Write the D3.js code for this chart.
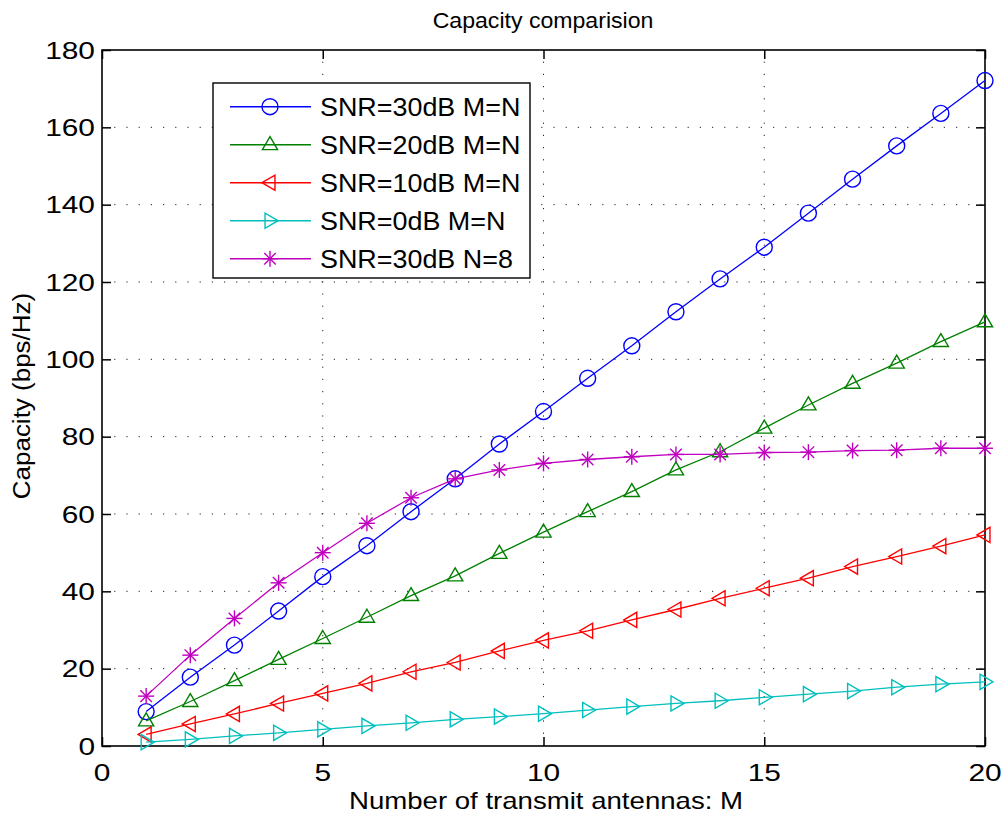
<!DOCTYPE html>
<html>
<head>
<meta charset="utf-8">
<script src="https://cdn.jsdelivr.net/npm/d3@7"></script>
<style>
  html, body { margin: 0; padding: 0; background: #fff; }
  svg { display: block; font-family: "Liberation Sans", Arial, Helvetica, sans-serif; }
</style>
</head>
<body>
<svg id="chart" width="1002" height="814"></svg>
<script>
// Number of transmit antennas M
const antennas = [1,2,3,4,5,6,7,8,9,10,11,12,13,14,15,16,17,18,19,20];

// Ergodic capacity (bps/Hz) for each configuration
const snr30MeqN = [8.9,17.8,26.1,34.9,43.8,51.8,60.6,69.1,78.1,86.5,95.1,103.5,112.3,120.8,129.0,137.8,146.6,155.2,163.6,172.1];
const snr20MeqN = [6.5,11.5,16.9,22.4,27.8,33.3,38.9,44.0,49.8,55.3,60.6,65.8,71.4,76.1,82.2,88.2,93.8,99.0,104.6,109.7];
const snr10MeqN = [3.0,5.7,8.3,11.0,13.6,16.2,19.2,21.6,24.6,27.3,29.8,32.6,35.3,38.2,40.8,43.4,46.4,49.0,51.7,54.6];
const snr0MeqN  = [1.0,1.7,2.6,3.4,4.3,5.2,6.0,6.9,7.6,8.35,9.3,10.2,11.0,11.7,12.6,13.4,14.2,15.2,16.0,16.6];
const snr30N8   = [12.9,23.5,33.0,42.2,50.0,57.6,64.2,69.1,71.4,73.1,74.1,74.8,75.4,75.4,75.9,76.0,76.4,76.5,77.0,77.0];

const seriesNames = ["SNR=30dB M=N","SNR=20dB M=N","SNR=10dB M=N","SNR=0dB M=N","SNR=30dB N=8"];
const seriesColors = ["#0000ff","#008000","#ff0000","#00bfbf","#bf00bf"];
const seriesMarkers = ["circle","triUp","triLeft","triRight","star"];
const seriesValues = [snr30MeqN, snr20MeqN, snr10MeqN, snr0MeqN, snr30N8];

const xTicks = [0,5,10,15,20];
const yTicks = [0,20,40,60,80,100,120,140,160,180];

const titleText = "Capacity comparision";
const xLabel = "Number of transmit antennas: M";
const yLabel = "Capacity (bps/Hz)";

const svg = d3.select("#chart");
const L = 102, R = 985, T = 50, B = 746;

const x = d3.scaleLinear().domain([0, 20]).range([L, R]);
const y = d3.scaleLinear().domain([0, 180]).range([B, T]);

// Text helper: the face is drawn slightly widened
function addText(parent, px, py, str, size, sx, anchor, rot) {
  const t = parent.append("text")
    .attr("transform", `translate(${px},${py})${rot ? ` rotate(${rot})` : ""} scale(${sx},1)`)
    .attr("text-anchor", anchor || "start")
    .style("font-size", size + "px")
    .attr("fill", "#000")
    .text(str);
  return t;
}

// Dotted grid
const grid = svg.append("g");
grid.selectAll(".gx").data(xTicks.filter(d => d > 0 && d < 20)).join("line")
  .attr("x1", d => x(d)).attr("x2", d => x(d)).attr("y1", B).attr("y2", T)
  .attr("stroke", "#222").attr("stroke-width", 1).attr("stroke-dasharray", "1.2,11");
grid.selectAll(".gy").data(yTicks.filter(d => d > 0 && d < 180)).join("line")
  .attr("x1", L).attr("x2", R).attr("y1", d => y(d)).attr("y2", d => y(d))
  .attr("stroke", "#222").attr("stroke-width", 1).attr("stroke-dasharray", "1.2,11");

// Axes with inward ticks on all four sides
const tickLen = 9;
const axB = svg.append("g").attr("transform", `translate(0,${B})`)
  .call(d3.axisBottom(x).tickValues(xTicks).tickSizeInner(-tickLen).tickSizeOuter(0).tickFormat(""));
const axT = svg.append("g").attr("transform", `translate(0,${T})`)
  .call(d3.axisTop(x).tickValues(xTicks).tickSizeInner(-tickLen).tickSizeOuter(0).tickFormat(""));
const axL = svg.append("g").attr("transform", `translate(${L},0)`)
  .call(d3.axisLeft(y).tickValues(yTicks).tickSizeInner(-tickLen).tickSizeOuter(0).tickFormat(""));
const axR = svg.append("g").attr("transform", `translate(${R},0)`)
  .call(d3.axisRight(y).tickValues(yTicks).tickSizeInner(-tickLen).tickSizeOuter(0).tickFormat(""));
[axB, axT, axL, axR].forEach(a => {
  a.select(".domain").remove();
  a.selectAll(".tick line").attr("stroke", "#000").attr("stroke-width", 1.5);
  a.selectAll(".tick text").remove();
});

// Tick labels
const tl = svg.append("g");
xTicks.forEach(d => addText(tl, x(d), 781, String(d), 23, 1.3, "middle"));
yTicks.forEach(d => addText(tl, 95, y(d) + 8.5, String(d), 23, 1.3, "end"));

// Box
svg.append("rect").attr("x", L).attr("y", T).attr("width", R - L).attr("height", B - T)
  .attr("fill", "none").attr("stroke", "#000").attr("stroke-width", 1.6);

// Marker shapes
function drawMarker(g, type, cx, cy, color) {
  const r = 8;
  if (type === "circle") {
    g.append("circle").attr("cx", cx).attr("cy", cy).attr("r", r)
      .attr("fill", "none").attr("stroke", color).attr("stroke-width", 1.4);
    return;
  }
  let pts;
  if (type === "triUp") pts = [[cx, cy - r], [cx + r * 0.95, cy + r * 0.62], [cx - r * 0.95, cy + r * 0.62]];
  if (type === "triLeft") pts = [[cx - r, cy], [cx + r * 0.62, cy - r * 0.95], [cx + r * 0.62, cy + r * 0.95]];
  if (type === "triRight") pts = [[cx + r, cy], [cx - r * 0.62, cy - r * 0.95], [cx - r * 0.62, cy + r * 0.95]];
  if (pts) {
    g.append("polygon").attr("points", pts.map(p => p.join(",")).join(" "))
      .attr("fill", "none").attr("stroke", color).attr("stroke-width", 1.4);
    return;
  }
  if (type === "star") {
    const s = 8;
    const d = s * 0.72;
    const segs = [[0, -s, 0, s], [-s, 0, s, 0], [-d, -d, d, d], [-d, d, d, -d]];
    segs.forEach(q => g.append("line")
      .attr("x1", cx + q[0]).attr("y1", cy + q[1]).attr("x2", cx + q[2]).attr("y2", cy + q[3])
      .attr("stroke", color).attr("stroke-width", 1.4));
  }
}

// Series lines and markers
const line = d3.line().x(d => x(d[0])).y(d => y(d[1]));
seriesValues.forEach((vals, i) => {
  const data = antennas.map((m, k) => [m, vals[k]]);
  const g = svg.append("g");
  g.append("path").datum(data).attr("d", line)
    .attr("fill", "none").attr("stroke", seriesColors[i]).attr("stroke-width", 1.3);
  data.forEach(d => drawMarker(g, seriesMarkers[i], x(d[0]), y(d[1]), seriesColors[i]));
});

// Legend
const lg = svg.append("g");
lg.append("rect").attr("x", 213).attr("y", 83).attr("width", 317).attr("height", 195)
  .attr("fill", "#fff").attr("stroke", "#000").attr("stroke-width", 1.4);
seriesNames.forEach((name, i) => {
  const ly = 106.7 + i * 38;
  lg.append("line").attr("x1", 230).attr("x2", 311).attr("y1", ly).attr("y2", ly)
    .attr("stroke", seriesColors[i]).attr("stroke-width", 1.4);
  drawMarker(lg, seriesMarkers[i], 270, ly, seriesColors[i]);
  addText(lg, 320, ly + 9.5, name, 25.5, 1.055, "start");
});

// Title and axis labels
addText(svg, 543, 28, titleText, 22, 1.05, "middle");
addText(svg, 546, 809, xLabel, 23, 1.2, "middle");
addText(svg, 30, 396, yLabel, 23, 1.13, "middle", -90);
</script>
</body>
</html>
